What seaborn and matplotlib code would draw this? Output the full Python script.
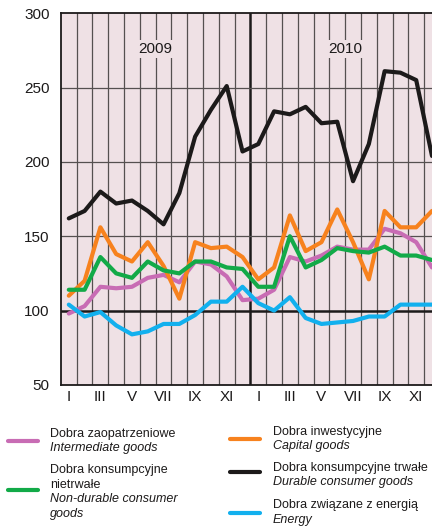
import numpy as np
import pandas as pd
import seaborn as sns
import matplotlib.pyplot as plt
from matplotlib.lines import Line2D

months = ['I', 'II', 'III', 'IV', 'V', 'VI', 'VII', 'VIII', 'IX', 'X', 'XI', 'XII'] * 2
years = ['2009', '2010']

intermediate = [98, 103, 116, 115, 116, 122, 124, 119, 133, 131, 123, 107,
                108, 114, 136, 133, 137, 143, 141, 141, 155, 152, 146, 129]
capital = [110, 120, 156, 138, 133, 146, 130, 108, 146, 142, 143, 136,
           121, 129, 164, 140, 146, 168, 146, 121, 167, 156, 156, 167]
nondurable = [114, 114, 136, 125, 122, 133, 127, 125, 133, 133, 129, 128,
              116, 116, 150, 129, 134, 142, 140, 139, 143, 137, 137, 134]
durable = [162, 167, 180, 172, 174, 167, 158, 179, 217, 235, 251, 207,
           212, 234, 232, 237, 226, 227, 187, 212, 261, 260, 255, 204]
energy = [104, 96, 99, 90, 84, 86, 91, 91, 97, 106, 106, 116,
          105, 100, 109, 95, 91, 92, 93, 96, 96, 104, 104, 104]

series = {
    'Dobra zaopatrzeniowe': intermediate,
    'Dobra inwestycyjne': capital,
    'Dobra konsumpcyjne nietrwałe': nondurable,
    'Dobra konsumpcyjne trwałe': durable,
    'Dobra związane z energią': energy,
}
colors = {
    'Dobra zaopatrzeniowe': '#c86cb4',
    'Dobra inwestycyjne': '#f7821e',
    'Dobra konsumpcyjne nietrwałe': '#12aa48',
    'Dobra konsumpcyjne trwałe': '#1c1a1a',
    'Dobra związane z energią': '#12b0ee',
}

rows = []
for name, vals in series.items():
    for i, v in enumerate(vals):
        rows.append({'t': i, 'value': v, 'series': name})
df = pd.DataFrame(rows)

sns.set_style('white')
plt.rcParams['font.family'] = ['Liberation Sans', 'DejaVu Sans']

bg = '#efe1e5'
fig = plt.figure(figsize=(4.32, 5.28), dpi=100)
ax = fig.add_axes([0.141, 0.271, 0.859, 0.704])
ax.set_facecolor(bg)

# grid
for k in range(1, 24):
    ax.axvline(k - 0.5, color='#1c1a1a' if k == 12 else '#555050',
               lw=1.8 if k == 12 else 0.9, zorder=1)
for yv in [150, 200, 250]:
    ax.axhline(yv, color='#555050', lw=0.9, zorder=1)
ax.axhline(100, color='#1c1a1a', lw=1.8, zorder=1)

sns.lineplot(data=df, x='t', y='value', hue='series', palette=colors,
             lw=3, legend=False, ax=ax, zorder=3)

ax.set_xlim(-0.5, 23)
ax.set_ylim(50, 300)
ax.set_yticks([50, 100, 150, 200, 250, 300])
ax.set_xticks(range(0, 24, 2))
ax.set_xticklabels(months[::2])
ax.tick_params(axis='y', labelsize=11, length=0, pad=8, colors='#1c1a1a')
ax.tick_params(axis='x', labelsize=11, length=0, pad=4, colors='#1c1a1a')
ax.set_xlabel('')
ax.set_ylabel('')
for s in ['left', 'top', 'bottom']:
    ax.spines[s].set_color('#1c1a1a')
    ax.spines[s].set_linewidth(1.3)
ax.spines['right'].set_visible(False)

for xpos, yr in zip([5.5, 17.5], years):
    ax.text(xpos, 276, yr, ha='center', va='center', fontsize=11, color='#1c1a1a',
            zorder=2, bbox=dict(facecolor=bg, edgecolor='none', pad=1.5))

# legend
H = 528.0
W = 432.0
def leg(x0, y_line, name, lines_pl, lines_en, tx, ty):
    fig.add_artist(Line2D([x0 / W, (x0 + 30) / W], [1 - y_line / H] * 2,
                          color=colors[name], lw=3))
    y = ty
    for t in lines_pl:
        fig.text(tx / W, 1 - y / H, t, fontsize=9, va='center', ha='left', color='#1c1a1a')
        y += 14.5
    for t in lines_en:
        fig.text(tx / W, 1 - y / H, t, fontsize=9, va='center', ha='left',
                 style='italic', color='#1c1a1a')
        y += 14.5

leg(8, 441, 'Dobra zaopatrzeniowe', ['Dobra zaopatrzeniowe'], ['Intermediate goods'], 50, 434)
leg(8, 490, 'Dobra konsumpcyjne nietrwałe', ['Dobra konsumpcyjne', 'nietrwałe'],
    ['Non-durable consumer', 'goods'], 50, 470)
leg(230, 439, 'Dobra inwestycyjne', ['Dobra inwestycyjne'], ['Capital goods'], 273, 432)
leg(230, 472, 'Dobra konsumpcyjne trwałe', ['Dobra konsumpcyjne trwałe'],
    ['Durable consumer goods'], 273, 468)
leg(230, 513, 'Dobra związane z energią', ['Dobra związane z energią'], ['Energy'], 273, 505)

fig.savefig('out.png', dpi=100, facecolor='white')
